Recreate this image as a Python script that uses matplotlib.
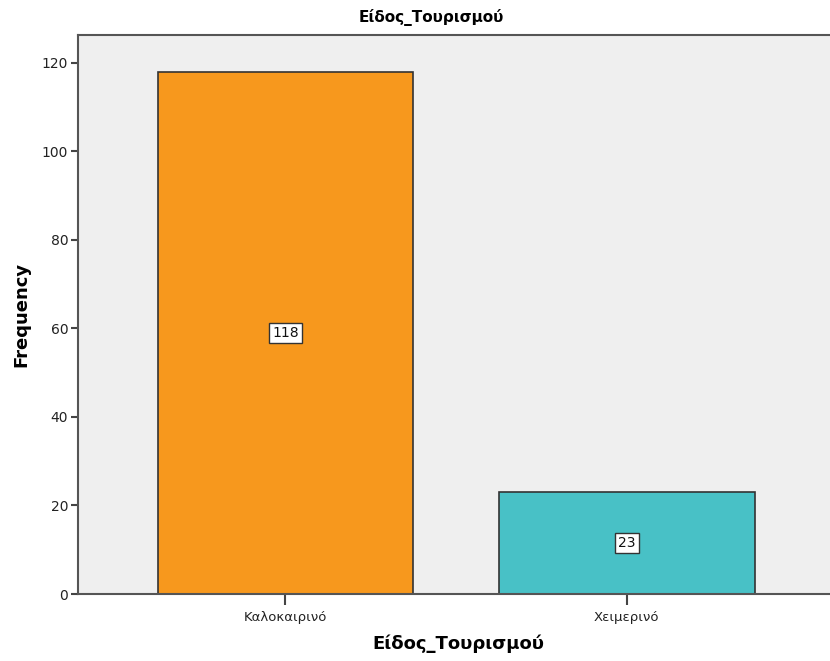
import matplotlib
matplotlib.use("Agg")
import matplotlib.pyplot as plt

categories = ["Καλοκαιρινό", "Χειμερινό"]
counts = [118, 23]
bar_colors = ["#F7981D", "#48C1C6"]
yticks = [0, 20, 40, 60, 80, 100, 120]

plt.rcParams['font.family'] = ['DejaVu Sans']

fig = plt.figure(figsize=(8.30, 6.61), dpi=100)
ax = fig.add_axes([78 / 830, 1 - 594 / 661, 1 - 78 / 830 + 0.01, (594 - 35) / 661])
ax.set_facecolor("#EFEFEF")

x = list(range(len(categories)))
bars = ax.bar(x, counts, width=0.75, color=bar_colors, edgecolor="#333333", linewidth=1.2, zorder=2)

for xi, v in zip(x, counts):
    ax.text(xi, v / 2, str(v), ha="center", va="center", fontsize=10, color="#111111", zorder=3,
            bbox=dict(boxstyle="square,pad=0.22", facecolor="white", edgecolor="#333333", linewidth=1.0))

ax.set_xlim(-0.608, 1.62)
ax.set_ylim(0, 126.3)
ax.set_xticks(x)
ax.set_xticklabels(categories, fontsize=9.5, color="#222222")
ax.set_yticks(yticks)
ax.set_yticklabels([str(t) for t in yticks], fontsize=10, color="#222222")
ax.tick_params(axis="y", direction="out", length=5, width=1.5, color="#444444", pad=2)
ax.tick_params(axis="x", direction="out", length=8, width=1.5, color="#444444", pad=4)

for s in ["left", "bottom", "top"]:
    ax.spines[s].set_color("#555555")
    ax.spines[s].set_linewidth(1.5)
ax.spines["right"].set_visible(False)

ax.set_ylabel("Frequency", fontsize=13, fontweight="bold", labelpad=8)
ax.set_xlabel("Είδος_Τουρισμού", fontsize=13, fontweight="bold", labelpad=8)
fig.text(431 / 830, 1 - 18 / 661, "Είδος_Τουρισμού", fontsize=11, fontweight="bold",
         ha="center", va="center")

fig.savefig("out.png", dpi=100)
